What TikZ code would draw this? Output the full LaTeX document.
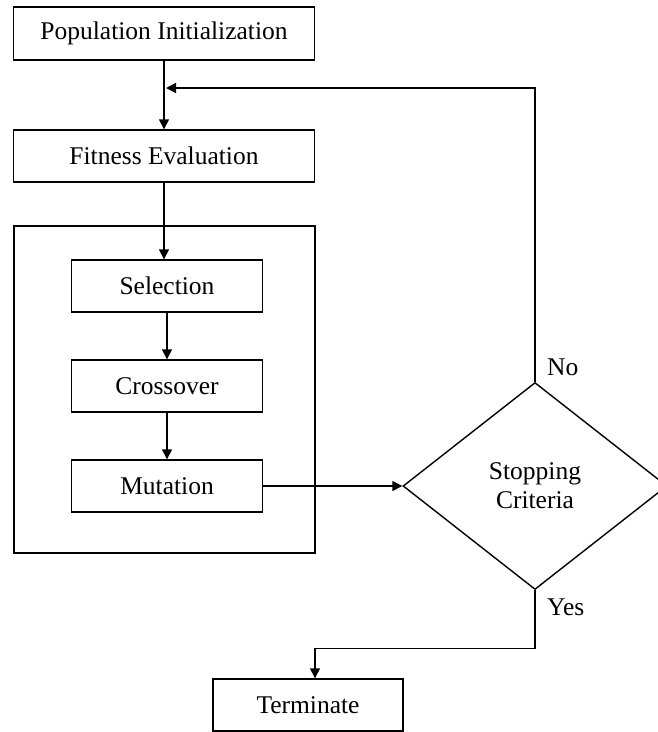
\documentclass[tikz,border=0pt]{standalone}
\usepackage{fontspec}
\setmainfont{Liberation Serif}
\usetikzlibrary{shapes.geometric,arrows.meta}
\begin{document}
\begin{tikzpicture}[x=1pt,y=-1pt,
  every node/.style={font=\fontsize{25.5}{30}\selectfont},
  box/.style={draw,line width=1.4pt,rectangle,inner sep=0pt},
  arr/.style={line width=1.4pt,-{Triangle[length=10pt,width=10pt]}},
  ln/.style={line width=1.4pt}]
\useasboundingbox (0,0) rectangle (657,732);
\node[box,minimum width=301pt,minimum height=53pt] (pop) at (164,33.5) {Population Initialization};
\node[box,minimum width=301pt,minimum height=52pt] (fit) at (164,156) {Fitness Evaluation};
\node[box,minimum width=301pt,minimum height=327pt] (loop) at (164.5,389.5) {};
\node[box,minimum width=191pt,minimum height=52pt] (sel) at (167,286) {Selection};
\node[box,minimum width=191pt,minimum height=52pt] (cro) at (167,386) {Crossover};
\node[box,minimum width=191pt,minimum height=52pt] (mut) at (167,486) {Mutation};
\node[draw,line width=1.4pt,diamond,minimum width=264pt,minimum height=207pt,inner sep=0pt,align=center] (dia) at (535,486) {Stopping\\[-1pt]Criteria};
\node[box,minimum width=190pt,minimum height=52pt] (term) at (308,705) {Terminate};
\node[anchor=west,inner sep=0pt] (no) at (547,367) {No};
\node[anchor=west,inner sep=0pt] (yes) at (547,607) {Yes};
\coordinate (fb) at (166,88);
\draw[arr] (pop.south) -- (fit.north);
\draw[arr] (fit.south) -- (sel.north -| fit.south);
\draw[arr] (sel.south) -- (cro.north);
\draw[arr] (cro.south) -- (mut.north);
\draw[arr] (mut.east) -- (dia.west);
\draw[arr] (dia.north) |- (fb);
\draw[arr] (dia.south) -- ++(0,58) -| ([xshift=7pt]term.north);
\end{tikzpicture}
\end{document}
